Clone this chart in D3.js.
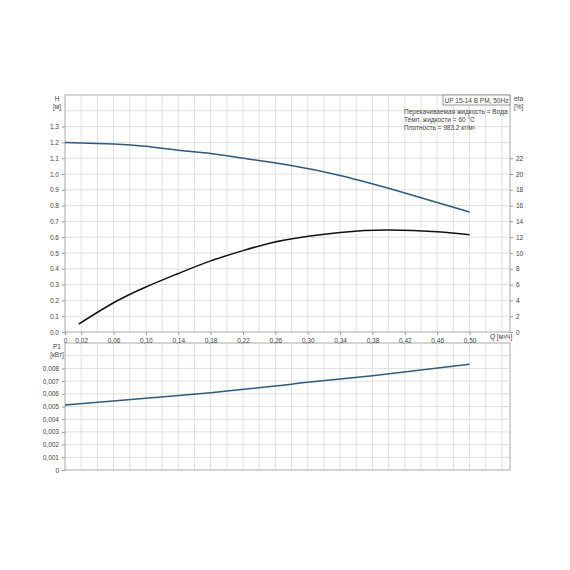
<!DOCTYPE html>
<html><head><meta charset="utf-8">
<script src="https://cdn.jsdelivr.net/npm/d3@7"></script>
<style>body{margin:0;background:#fff}text{font-family:"Liberation Sans",Arial,sans-serif;fill:#444}</style>
</head><body>
<script>
const qH = [0, 0.06, 0.10, 0.14, 0.18, 0.22, 0.276, 0.34, 0.42, 0.50];
const hVals = [1.20, 1.19, 1.175, 1.15, 1.13, 1.10, 1.057, 0.99, 0.88, 0.76];
const qEta = [0.017, 0.06, 0.10, 0.14, 0.18, 0.22, 0.27, 0.34, 0.40, 0.46, 0.50];
const etaVals = [1.0, 3.7, 5.7, 7.4, 9.0, 10.3, 11.6, 12.6, 12.9, 12.7, 12.3];
const qP = [0, 0.10, 0.18, 0.26, 0.30, 0.38, 0.50];
const pVals = [0.00512, 0.00564, 0.00609, 0.00661, 0.0069, 0.00743, 0.00832];
const xTicks = [0, 0.02, 0.06, 0.10, 0.14, 0.18, 0.22, 0.26, 0.30, 0.34, 0.38, 0.42, 0.46, 0.50];
const hTicks = d3.range(0, 14).map(i => i / 10);
const etaTicks = d3.range(0, 24, 2);
const pTicks = d3.range(0, 9).map(i => i / 1000);
const infoLines = ["Перекачиваемая жидкость = Вода", "Темп. жидкости = 60 °C", "Плотность = 983.2 кг/м³"];

const svg = d3.select("body").append("svg").attr("width", 570).attr("height", 570);
const L = 65, R = 510;
const x = d3.scaleLinear().domain([0, 0.55]).range([L, R]);
const yH = d3.scaleLinear().domain([0, 1.5]).range([332, 95]);
const yEta = d3.scaleLinear().domain([0, 30]).range([332, 95]);
const yP = d3.scaleLinear().domain([0, 0.010]).range([470, 343]);
const comma = v => v === 0 ? "0" : d3.format(".2f")(v).replace(".", ",");
const grid = "#e0e0e0", fs = 6.5;

function panel(y, yTop, yBot, yStep) {
  const g = svg.append("g");
  g.selectAll(".v").data(d3.range(0.02, 0.55, 0.02)).join("line")
    .attr("x1", d => x(d)).attr("x2", d => x(d)).attr("y1", yTop).attr("y2", yBot).attr("stroke", grid);
  g.selectAll(".h").data(yStep).join("line")
    .attr("x1", L).attr("x2", R).attr("y1", d => y(d)).attr("y2", d => y(d)).attr("stroke", grid);
  g.append("rect").attr("x", L).attr("y", yTop).attr("width", R - L).attr("height", yBot - yTop)
    .attr("fill", "none").attr("stroke", "#aaa");
}
panel(yH, 95, 332, d3.range(1, 15).map(i => i / 10));
panel(yP, 343, 470, d3.range(1, 10).map(i => i / 1000));

const style = g => { g.select(".domain").remove(); g.selectAll("text").style("font-size", fs + "px"); g.selectAll("line").attr("stroke", "#999"); };
svg.append("g").attr("transform", `translate(${L},0)`)
  .call(d3.axisLeft(yH).tickValues(hTicks).tickSize(3).tickFormat(d3.format(".1f"))).call(style);
svg.append("g").attr("transform", `translate(${R},0)`)
  .call(d3.axisRight(yEta).tickValues(etaTicks).tickSize(3)).call(style);
svg.append("g").attr("transform", "translate(0,332)")
  .call(d3.axisBottom(x).tickValues(xTicks).tickSize(3).tickFormat(comma)).call(style);
svg.append("g").attr("transform", `translate(${L},0)`)
  .call(d3.axisLeft(yP).tickValues(pTicks).tickSize(3).tickFormat(v => v === 0 ? "0" : d3.format(".3f")(v).replace(".", ","))).call(style);

const txt = (t, tx, ty, anchor = "start") => svg.append("text").attr("x", tx).attr("y", ty)
  .attr("text-anchor", anchor).style("font-size", fs + "px").text(t);
txt("H", 57, 101, "middle"); txt("[м]", 57, 109, "middle");
txt("eta", 514, 101); txt("[%]", 514, 109);
txt("P1", 57, 349, "middle"); txt("[кВт]", 57, 357, "middle");
txt("Q [м³/ч]", 490, 339);
svg.append("rect").attr("x", 443).attr("y", 95).attr("width", 67).attr("height", 10).attr("fill", "#fff").attr("stroke", "#999");
txt("UP 15-14 B PM, 50Hz", 476.5, 102.5, "middle");
infoLines.forEach((t, i) => txt(t, 404, 114 + i * 8));

const line = (xs, ys, yS, col) => svg.append("path")
  .attr("d", d3.line().x((d, i) => x(xs[i])).y(d => yS(d)).curve(d3.curveNatural)(ys))
  .attr("fill", "none").attr("stroke", col).attr("stroke-width", 1.5);
line(qH, hVals, yH, "#2c5a85");
line(qEta, etaVals, yEta, "#111");
line(qP, pVals, yP, "#2c5a85");
</script>
</body></html>
